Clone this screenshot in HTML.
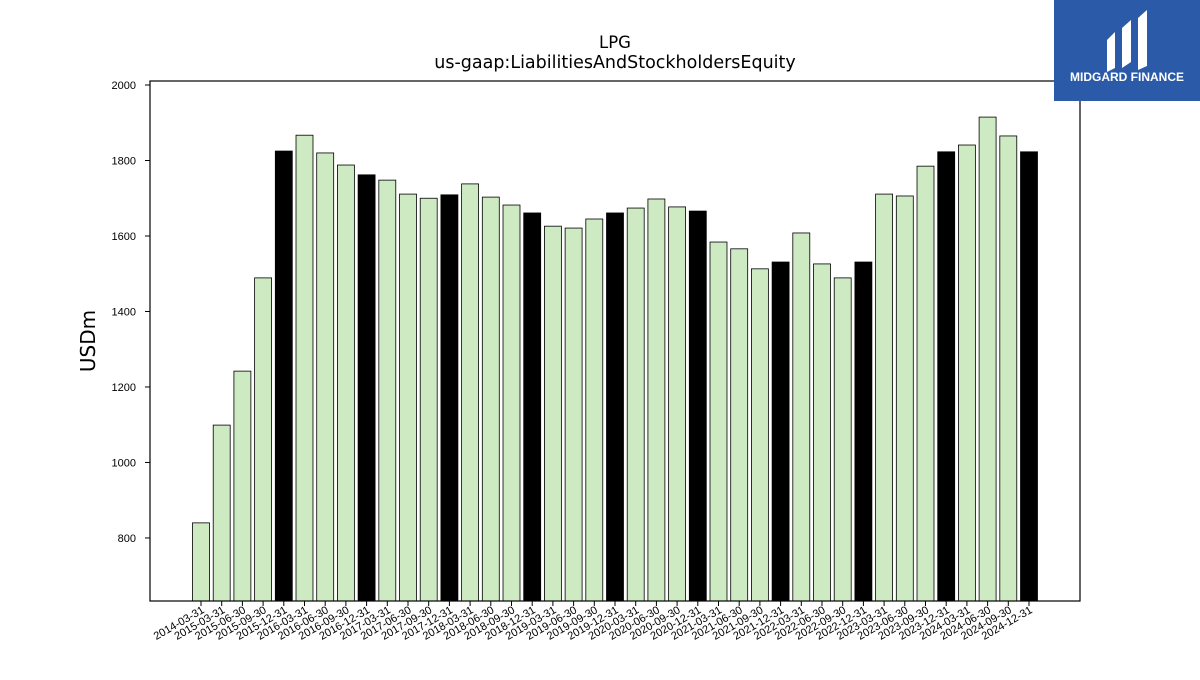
<!DOCTYPE html>
<html><head><meta charset="utf-8"><style>
body{margin:0;background:#fff;font-family:"Liberation Sans","DejaVu Sans",sans-serif}
</style></head><body>
<svg id="chart" width="1200" height="675" xmlns="http://www.w3.org/2000/svg">
<rect width="1200" height="675" fill="#fff"/>
<text x="615" y="48" text-anchor="middle" font-size="16.5" font-family="DejaVu Sans,sans-serif">LPG</text>
<text x="615" y="68" text-anchor="middle" font-size="17.5" font-family="DejaVu Sans,sans-serif">us-gaap:LiabilitiesAndStockholdersEquity</text>
<text transform="translate(95,341) rotate(-90)" text-anchor="middle" font-size="20" font-family="DejaVu Sans,sans-serif">USDm</text>
<g id="bars"></g><g id="yticks"></g><g id="xticks"></g>
<rect x="150" y="81" width="930" height="520" fill="none" stroke="#000" stroke-width="1.2"/>
<g>
<rect x="1054" y="0" width="146" height="101" fill="#2a5aa8"/>
<path d="M1107 40 L1115 32 L1115 68 L1107 72 Z M1122 28 L1131 20 L1131 62 L1122 68 Z M1138 18 L1147 10 L1147 66 L1138 70 Z" fill="#fff"/>
<text x="1127" y="81" text-anchor="middle" font-size="12" font-weight="bold" fill="#fff">MIDGARD FINANCE</text>
</g>
</svg>
<script>
const categories=["2014-03-31","2015-03-31","2015-06-30","2015-09-30","2015-12-31","2016-03-31","2016-06-30","2016-09-30","2016-12-31","2017-03-31","2017-06-30","2017-09-30","2017-12-31","2018-03-31","2018-06-30","2018-09-30","2018-12-31","2019-03-31","2019-06-30","2019-09-30","2019-12-31","2020-03-31","2020-06-30","2020-09-30","2020-12-31","2021-03-31","2021-06-30","2021-09-30","2021-12-31","2022-03-31","2022-06-30","2022-09-30","2022-12-31","2023-03-31","2023-06-30","2023-09-30","2023-12-31","2024-03-31","2024-06-30","2024-09-30","2024-12-31"];
const values=[840,1099,1242,1489,1825,1867,1820,1788,1762,1748,1711,1700,1709,1738,1703,1682,1661,1626,1621,1645,1661,1674,1698,1677,1666,1584,1566,1513,1531,1608,1526,1489,1531,1711,1706,1785,1823,1841,1915,1865,1823];
const yTicks=[800,1000,1200,1400,1600,1800,2000];
const NS="http://www.w3.org/2000/svg";
const yMin=633,yMax=2010.6,plotTop=81,plotBot=601;
const yScale=v=>plotBot-(v-yMin)/(yMax-yMin)*(plotBot-plotTop);
const x0=201,x1=1029,step=(x1-x0)/(categories.length-1);
const xScale=i=>x0+i*step;
const bw=step*0.82;
const gb=document.getElementById('bars'),gy=document.getElementById('yticks'),gx=document.getElementById('xticks');
values.forEach((v,i)=>{
 const r=document.createElementNS(NS,'rect');
 
 
 r.setAttribute('x',xScale(i)-bw/2);r.setAttribute('y',yScale(v));r.setAttribute('width',bw);r.setAttribute('height',plotBot-yScale(v));
 r.setAttribute('fill',categories[i].endsWith('12-31')?'#000':'#cdeac3');r.setAttribute('stroke','#000');r.setAttribute('stroke-width','0.8');
 gb.appendChild(r);
});
yTicks.forEach(t=>{
 const l=document.createElementNS(NS,'line');
 
 
 l.setAttribute('x1',145);l.setAttribute('x2',150);l.setAttribute('y1',yScale(t));l.setAttribute('y2',yScale(t));l.setAttribute('stroke','#000');
 gy.appendChild(l);
 const tx=document.createElementNS(NS,'text');
 
 
 tx.setAttribute('x',136);tx.setAttribute('y',yScale(t)+4);tx.setAttribute('text-anchor','end');tx.setAttribute('font-size','11');
 tx.textContent=t;gy.appendChild(tx);
});
categories.forEach((c,i)=>{
 const l=document.createElementNS(NS,'line');
 
 
 l.setAttribute('x1',xScale(i));l.setAttribute('x2',xScale(i));l.setAttribute('y1',601);l.setAttribute('y2',606);l.setAttribute('stroke','#000');
 gx.appendChild(l);
 const tx=document.createElementNS(NS,'text');
 
 
 tx.setAttribute('transform','translate('+(xScale(i)+4)+',612) rotate(-30)');
 tx.setAttribute('text-anchor','end');tx.setAttribute('font-size','11');
 tx.textContent=c;gx.appendChild(tx);
});
</script>
</body></html>
